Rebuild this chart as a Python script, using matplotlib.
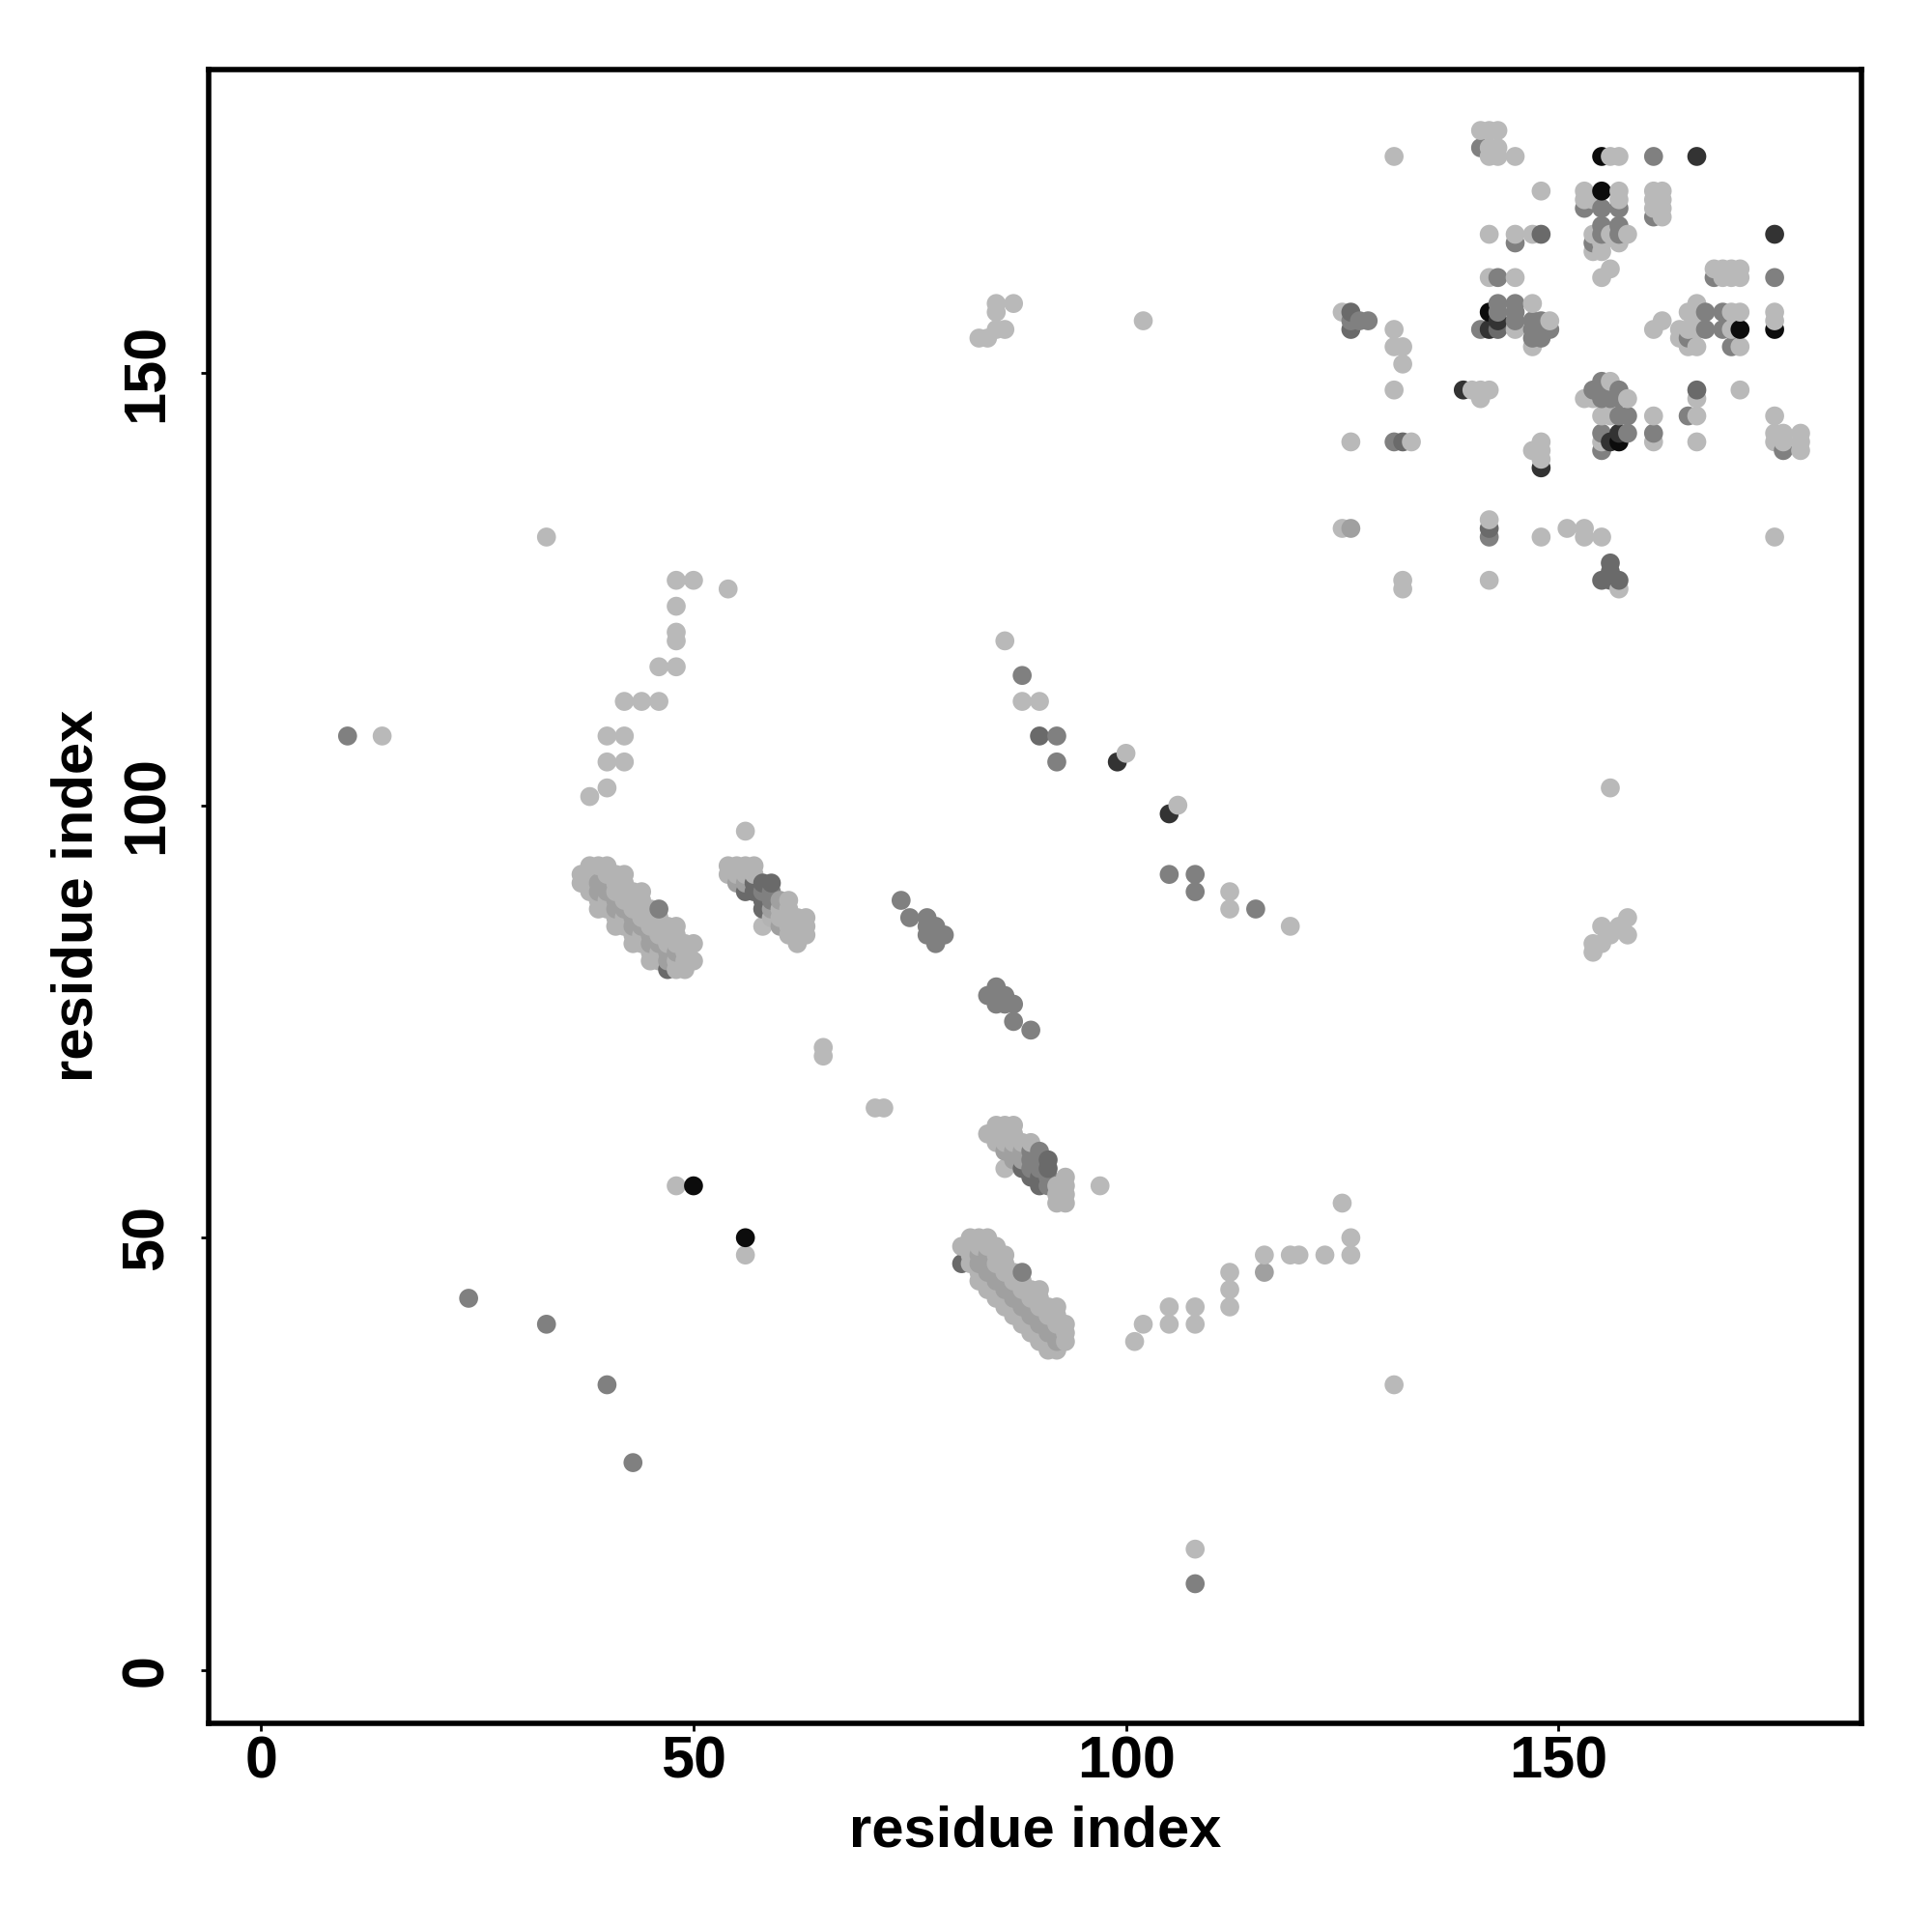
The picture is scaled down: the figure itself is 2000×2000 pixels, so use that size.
import pandas as pd
import matplotlib
matplotlib.use("Agg")
import matplotlib.pyplot as plt

plt.rcParams["font.family"] = ["Liberation Sans", "DejaVu Sans"]

# contact points (residue i, residue j) grouped by grey level
band_light = [
    # band 1
    (38,93),(39,93),(40,93),(37,92),(38,92),(40,92),(41,92),(42,92),(37,91),(38,91),(41,91),(42,91),
    (38,90),(41,90),(42,90),(43,90),(44,90),(39,89),(40,89),(42,89),(43,89),(44,89),
    (39,88),(40,88),(43,88),(44,88),(45,88),(41,87),(42,87),(44,87),(45,87),(46,87),
    (41,86),(42,86),(45,86),(46,86),(47,86),(48,86),(43,85),(44,85),(46,85),(47,85),(48,85),
    (43,84),(44,84),(47,84),(48,84),(49,84),(50,84),(45,83),(46,83),(49,83),
    (45,82),(46,82),(48,82),(49,82),(50,82),(48,81),(49,81),
    # band 2
    (54,93),(55,93),(56,93),(57,93),(54,92),(55,92),(56,92),(57,92),(61,89),(60,88),(61,88),
    (59,87),(60,87),(61,87),(62,87),(63,87),(61,86),(62,86),(63,86),(61,85),(62,85),(63,85),(62,84),
    # band 3
    (85,63),(86,63),(87,63),(84,62),(85,62),(86,62),(87,62),(85,61),(86,61),(87,61),(88,61),(89,61),
    (93,57),(92,56),(93,56),(92,55),(93,55),(92,54),(93,54),
    # band 4
    (82,50),(83,50),(84,50),(81,49),(82,49),(83,49),(84,49),(85,49),(82,48),(85,48),(86,48),
    (82,47),(85,47),(86,47),(83,46),(86,46),(87,46),(83,45),(84,45),(87,45),(88,45),
    (84,44),(85,44),(88,44),(89,44),(90,44),(85,43),(86,43),(89,43),(90,43),
    (86,42),(87,42),(90,42),(91,42),(92,42),(87,41),(88,41),(91,41),(92,41),
    (88,40),(89,40),(92,40),(93,40),(89,39),(90,39),(93,39),(90,38),(91,38),(93,38),(91,37),(92,37),
]
light = [
    # scattered
    (56,97),(58,86),(86,58),(97,56),
    (33,131),(54,125),(48,126),(50,126),(48,123),(48,120),(48,119),(46,116),(48,116),
    (42,112),(44,112),(46,112),(40,108),(42,108),(40,105),(42,105),(40,102),(38,101),(14,108),
    (86,119),(88,112),(90,112),(100,106),(106,100),(112,90),(112,88),(119,86),
    (83,154),(84,154),(85,155),(86,155),(85,158),(85,157),(87,158),(102,156),(156,102),
    (154,83),(154,84),(155,84),(156,85),(155,86),(157,86),(158,87),(158,85),
    (65,72),(65,71),(71,65),(72,65),(48,56),(56,48),(108,14),
    (101,38),(102,40),(105,40),(105,42),(108,42),(108,40),(112,42),(112,44),(112,46),(116,48),
    (119,48),(120,48),(123,48),(126,48),(126,50),(125,54),(131,33),
    # top right
    (141,178),(142,178),(143,178),(142,176),(143,176),(131,175),(142,175),(143,175),(145,175),(156,175),(157,175),
    (148,171),(153,171),(157,171),(161,171),(162,171),(153,170),(154,170),(157,170),(161,170),(162,170),
    (161,169),(162,169),(162,168),(142,166),(145,166),(147,166),(154,166),(156,166),(158,166),
    (155,165),(157,165),(154,164),(155,164),(156,162),(168,162),(169,162),(170,162),(171,162),
    (155,161),(142,161),(145,161),(169,161),(170,161),(171,161),(147,158),(166,158),
    (125,157),(165,157),(170,157),(171,157),(175,157),(149,156),(162,156),(166,156),(175,156),
    (131,155),(145,155),(161,155),(164,155),(165,155),(166,155),(170,155),
    (131,153),(132,153),(164,154),(147,153),(165,153),(166,153),(171,153),(132,151),
    (131,148),(140,148),(141,148),(142,148),(156,149),(171,148),(141,147),(153,147),(154,147),(158,147),(166,147),
    (155,145),(156,145),(161,145),(166,145),(175,145),(175,143),(176,143),(178,143),
    (126,142),(133,142),(148,142),(155,142),(161,142),(166,142),(175,142),(176,142),(178,142),
    (147,141),(148,141),(178,141),(148,140),
    (125,132),(142,133),(148,131),(155,131),(151,132),(153,132),(153,131),(175,131),
    (132,126),(142,126),(132,125),(157,125),
]
mid = [
    (39,91),(40,91),(39,90),(40,90),(41,89),(41,88),(42,88),(43,87),(43,86),(44,86),
    (45,85),(45,84),(46,84),(47,83),(48,83),(47,82),
    (55,91),(56,91),(60,89),(59,88),(60,86),
    (86,60),(87,60),(88,60),(87,59),(88,59),
    (83,48),(84,48),(83,47),(84,47),(84,46),(85,46),(85,45),(86,45),(86,44),(87,44),
    (87,43),(88,43),(88,42),(89,42),(89,41),(90,41),(90,40),(91,40),(91,39),(92,39),(92,38),
    (126,132),(116,46),
]
grey = [
    (141,176),(161,175),(153,169),(155,169),(157,169),(161,168),(155,167),(157,167),(155,166),(157,166),
    (145,165),(154,165),(143,161),(168,161),(175,161),(143,158),(145,158),(145,157),(167,157),(169,157),
    (126,156),(127,156),(128,156),(143,157),(145,156),(147,156),(148,156),(167,155),(169,155),(141,155),
    (147,155),(148,155),(149,155),(147,154),(148,154),(165,154),(170,153),
    (155,149),(154,148),(155,148),(156,148),(157,148),(155,147),(156,147),(157,147),
    (157,145),(158,145),(165,145),(155,143),(158,143),(161,143),(155,141),(176,141),(131,142),
    (142,131),(92,108),(92,105),(108,92),(108,90),(105,92),(115,88),
    (88,115),(10,108),(24,43),(33,40),(40,33),(43,24),(108,10),
    (59,90),(58,90),(59,89),(89,60),(90,60),(89,59),(90,59),(89,58),(90,58),(91,57),(91,56),
    (88,46),(46,88),
    (74,89),(75,87),(77,87),(78,86),(77,85),(79,85),(78,84),(77,86),
    (84,78),(85,79),(85,77),(86,78),(87,77),(86,77),(87,75),(89,74),
]
dark_grey = [
    (148,166),(126,157),(126,155),(143,155),(166,148),(142,132),(155,126),(156,126),(157,126),(156,128),(156,127),
    (57,91),(58,91),(59,91),(56,90),(57,90),(58,89),(58,88),
    (91,59),(88,58),(91,58),(89,57),(90,57),(90,56),
    (81,47),(47,81),(90,108),(132,142),
]
dark = [
    (166,175),(175,166),(143,156),(142,155),(139,148),(157,143),(156,142),(148,139),(99,105),(105,99),
]
black = [
    (155,175),(155,171),(142,157),(171,155),(175,155),(157,142),(50,56),(56,50),
]

grey_levels = {
    "#b9b9b9": light,
    "#b3b3b3": band_light,
    "#a0a0a0": mid,
    "#808080": grey,
    "#6a6a6a": dark_grey,
    "#333333": dark,
    "#0c0c0c": black,
}

tick_values = [0, 50, 100, 150]

rows = []
for colour, points in grey_levels.items():
    for x, y in points:
        rows.append((x, y, colour))
data = pd.DataFrame(rows, columns=["x", "y", "colour"])
# points are painted column by column, like scanning a contact matrix
data = data.sort_values(["x", "y"])

fig = plt.figure(figsize=(10, 10), dpi=200)
ax = fig.add_axes([216 / 2000, 1 - 1784 / 2000, 1711 / 2000, 1712.5 / 2000])

ax.scatter(data["x"], data["y"], c=data["colour"], s=50, linewidths=0, clip_on=False)

ax.set_xlim(-6.06, 185.04)
ax.set_ylim(-6.14, 185.1)
ax.set_xticks(tick_values)
ax.set_yticks(tick_values)
ax.tick_params(axis="both", length=3, width=1, labelsize=22)
ax.tick_params(axis="x", pad=1.5)
ax.tick_params(axis="y", pad=9.5)
for label in ax.get_xticklabels():
    label.set_fontweight("bold")
for label in ax.get_yticklabels():
    label.set_fontweight("bold")
    label.set_rotation(90)
    label.set_va("center")
for spine in ax.spines.values():
    spine.set_linewidth(2)

ax.set_xlabel("residue index", fontsize=21.5, fontweight="bold", labelpad=5.5)
ax.set_ylabel("residue index", fontsize=21.5, fontweight="bold", labelpad=6)

fig.savefig("out.png", dpi=200)
